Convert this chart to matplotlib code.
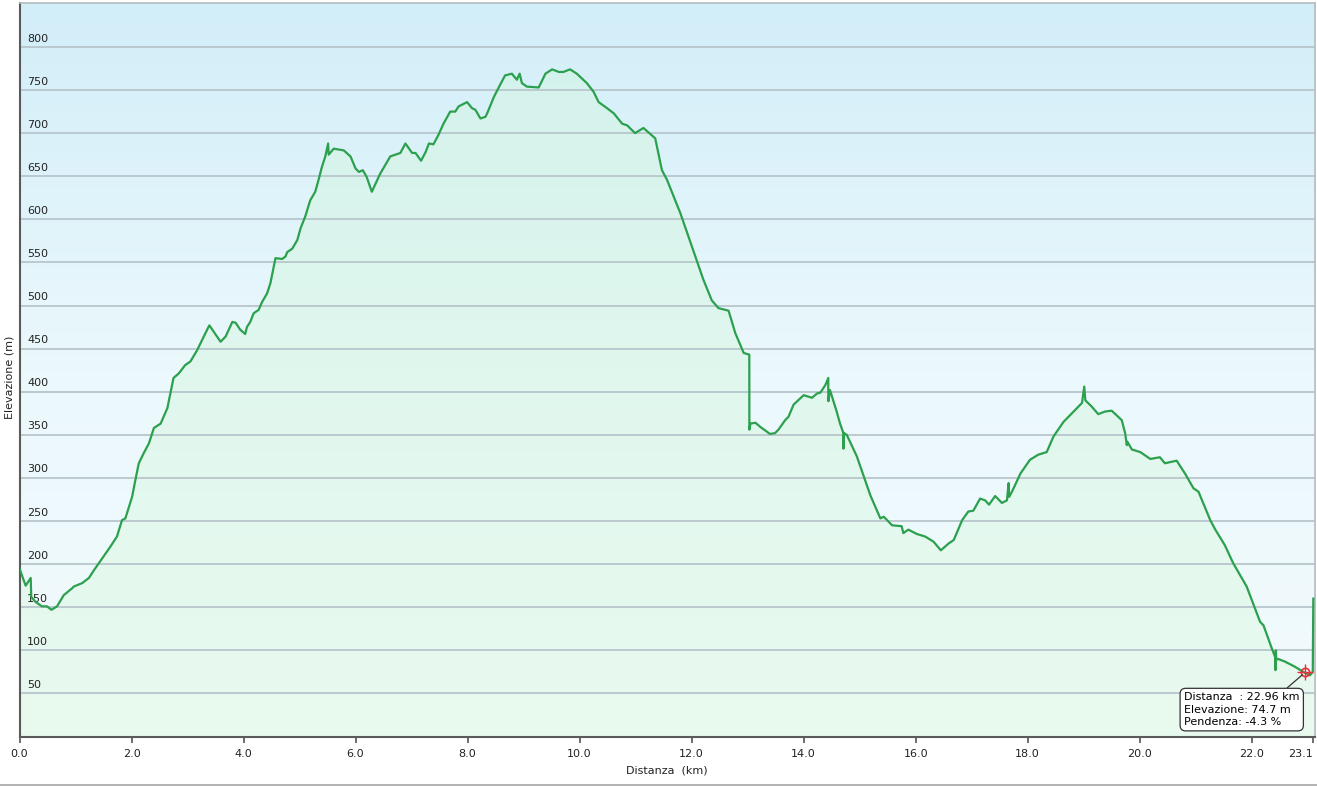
import numpy as np
import matplotlib as mpl
import matplotlib.pyplot as plt
from matplotlib.colors import LinearSegmentedColormap
from matplotlib.transforms import blended_transform_factory

# distance (km) / elevation (m)
dist = [0.00, 0.11, 0.20, 0.21, 0.29, 0.40, 0.49, 0.57, 0.67, 0.79, 0.94, 0.97,
        1.12, 1.24, 1.33, 1.48, 1.62, 1.74, 1.83, 1.89, 2.01, 2.07, 2.13, 2.22,
        2.31, 2.40, 2.52, 2.64, 2.75, 2.84, 2.96, 3.05, 3.17, 3.26, 3.35, 3.39,
        3.59, 3.68, 3.80, 3.86, 3.94, 4.03, 4.06, 4.12, 4.18, 4.27, 4.33, 4.42,
        4.48, 4.57, 4.69, 4.75, 4.78, 4.87, 4.96, 5.02, 5.10, 5.19, 5.28, 5.34,
        5.40, 5.46, 5.51, 5.52, 5.61, 5.79, 5.91, 6.00, 6.06, 6.13, 6.20, 6.29,
        6.44, 6.62, 6.80, 6.89, 7.01, 7.07, 7.17, 7.25, 7.31, 7.39, 7.48, 7.57,
        7.69, 7.78, 7.84, 7.99, 8.08, 8.14, 8.23, 8.32, 8.35, 8.47, 8.58, 8.67,
        8.79, 8.88, 8.93, 8.97, 9.06, 9.27, 9.39, 9.51, 9.63, 9.71, 9.83, 9.95,
        10.13, 10.25, 10.34, 10.49, 10.61, 10.76, 10.85, 10.99, 11.14, 11.35,
        11.47, 11.56, 11.80, 12.03, 12.21, 12.36, 12.48, 12.66, 12.78, 12.93,
        13.03, 13.031, 13.05, 13.14, 13.23, 13.40, 13.49, 13.55, 13.67, 13.73,
        13.82, 14.00, 14.15, 14.24, 14.30, 14.39, 14.44, 14.441, 14.47, 14.59,
        14.65, 14.71, 14.711, 14.72, 14.77, 14.95, 15.19, 15.37, 15.43, 15.58,
        15.75, 15.78, 15.87, 16.02, 16.17, 16.32, 16.45, 16.59, 16.68, 16.83,
        16.94, 17.03, 17.15, 17.24, 17.31, 17.42, 17.54, 17.63, 17.66, 17.67,
        17.72, 17.87, 18.04, 18.19, 18.34, 18.46, 18.64, 18.85, 18.97, 19.01,
        19.03, 19.14, 19.26, 19.38, 19.50, 19.68, 19.74, 19.77, 19.78, 19.86,
        20.01, 20.19, 20.36, 20.45, 20.66, 20.81, 20.96, 21.05, 21.26, 21.35,
        21.52, 21.67, 21.91, 22.15, 22.21, 22.36, 22.42, 22.425, 22.43, 22.44,
        22.47, 22.59, 22.77, 22.92, 23.04, 23.09, 23.10]
elev = [195, 175, 184, 162, 156, 151, 151, 147, 151, 164, 172, 174,
        178, 184, 193, 207, 220, 232, 251, 253, 278, 298, 317, 329,
        340, 358, 363, 381, 416, 421, 431, 435, 448, 460, 472, 477,
        458, 464, 481, 480, 472, 467, 475, 481, 491, 495, 504, 514,
        526, 555, 554, 557, 562, 566, 576, 590, 603, 622, 632, 646,
        661, 673, 688, 675, 682, 680, 673, 659, 655, 657, 649, 632,
        653, 673, 677, 688, 677, 677, 668, 678, 688, 687, 698, 711,
        725, 725, 731, 736, 729, 727, 717, 719, 723, 742, 756, 767,
        769, 762, 769, 758, 754, 753, 769, 774, 771, 771, 774, 769,
        758, 748, 736, 729, 723, 711, 709, 700, 706, 694,
        657, 646, 607, 564, 530, 506, 497, 494, 468, 445,
        443, 356, 363, 364, 359, 351, 352, 356, 367, 371,
        385, 396, 393, 398, 399, 408, 416, 389, 402, 377,
        363, 352, 334, 352, 350, 325, 280, 253, 255, 245,
        244, 236, 240, 235, 232, 226, 216, 224, 228, 251,
        261, 262, 276, 274, 269, 279, 271, 274, 294, 278,
        284, 305, 321, 327, 330, 348, 365, 379, 387, 406,
        390, 383, 374, 377, 378, 367, 352, 338, 342, 333,
        330, 322, 324, 317, 320, 305, 288, 284, 251, 240,
        222, 201, 174, 133, 129, 102, 92, 77, 100, 89,
        90, 87, 81, 75, 71, 75, 160]

x_ticks = [0, 2, 4, 6, 8, 10, 12, 14, 16, 18, 20, 22, 23.1]
y_ticks = [50, 100, 150, 200, 250, 300, 350, 400, 450, 500, 550, 600, 650, 700, 750, 800]

cursor = (22.96, 74.7)
cursor_text = "Distanza  : 22.96 km\nElevazione: 74.7 m\nPendenza: -4.3 %"

x_max, y_max = 23.13, 851

fig = plt.figure(figsize=(13.17, 7.86), dpi=100)
ax = fig.add_axes([19.5 / 1317, 49.5 / 786, 1295.5 / 1317, 733.5 / 786])
ax.set_xlim(0, x_max)
ax.set_ylim(0, y_max)

# background gradient (blue top -> very pale bottom)
bg = LinearSegmentedColormap.from_list("bg", ["#f2fbfd", "#ebf8fc", "#d2eef9"])
grad = np.linspace(0, 1, 256).reshape(-1, 1)
ax.imshow(grad, cmap=bg, origin="lower", aspect="auto",
          extent=[0, x_max, 0, y_max], zorder=0)

# area under the profile, green gradient clipped to the curve
poly = ax.fill_between(dist, elev, 0, color="none", lw=0)
clip = poly.get_paths()[0]
fg = LinearSegmentedColormap.from_list("fg", ["#e9faef", "#e0f7ee", "#d2f1ec"])
im = ax.imshow(grad, cmap=fg, origin="lower", aspect="auto",
               extent=[0, x_max, 0, y_max], zorder=1)
im.set_clip_path(clip, transform=ax.transData)

for v in y_ticks:
    ax.axhline(v, color="#b8c6cc", lw=1.3, zorder=2)
trans = blended_transform_factory(ax.transAxes, ax.transData)
for v in y_ticks:
    ax.text(0.0058, v + 4, str(v), transform=trans, ha="left", va="bottom",
            fontsize=8, color="#222222", zorder=3)

ax.plot(dist, elev, color="#2ba04d", lw=1.6, zorder=4, solid_joinstyle="round")

# cursor marker and info box
ax.plot(*cursor, "o", ms=6, mfc="none", mec="#e8303a", mew=1.2, zorder=6)
ax.plot(*cursor, "+", ms=11, mec="#e8303a", mew=1.0, zorder=6)
ax.annotate(cursor_text, xy=cursor, xycoords="data",
            xytext=(1184, 786 - 727), textcoords="figure pixels",
            ha="left", va="bottom", fontsize=8, linespacing=1.3,
            bbox=dict(boxstyle="round,pad=0.35,rounding_size=0.5", fc="white",
                      ec="#333333", lw=0.9),
            arrowprops=dict(arrowstyle="-", color="#333333", lw=0.9,
                            shrinkA=0, shrinkB=3, relpos=(0.85, 1.0)),
            zorder=7)

ax.set_yticks([])
ax.set_xticks(x_ticks)
ax.set_xticklabels(["%.1f" % t for t in x_ticks], fontsize=8, color="#222222")
ax.get_xticklabels()[-1].set_horizontalalignment("right")
ax.tick_params(axis="x", direction="out", length=4, width=1.2, color="#555555", pad=5)
ax.set_xlabel("Distanza  (km)", fontsize=8, labelpad=5, color="#222222")
fig.text(10 / 1317, 0.52, "Elevazione (m)", rotation=90, ha="center", va="center",
         fontsize=8, color="#222222")

for s in ["left", "bottom"]:
    ax.spines[s].set_color("#5a5a5a")
    ax.spines[s].set_linewidth(1.5)
for s in ["top", "right"]:
    ax.spines[s].set_color("#b5bcc0")
    ax.spines[s].set_linewidth(1.2)

fig.add_artist(mpl.lines.Line2D([0, 1], [1.0 / 786, 1.0 / 786], color="#a5a5a5", lw=1.2))

fig.savefig("out.png", dpi=100)
